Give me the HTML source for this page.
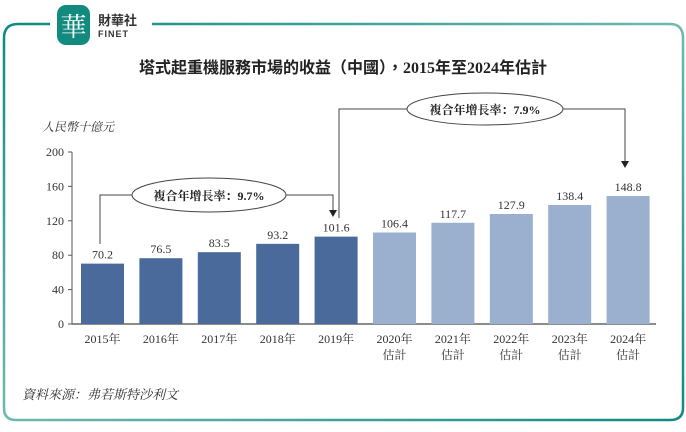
<!DOCTYPE html>
<html><head><meta charset="utf-8"><style>
body{margin:0;width:686px;height:427px;background:#fff;overflow:hidden;font-family:"Liberation Serif","Noto Serif CJK SC",serif;}
</style></head><body>
<svg width="686" height="427" id="c">
<defs>
<linearGradient id="fr" x1="0" y1="0" x2="1" y2="1"><stop offset="0" stop-color="#0f8a80"/><stop offset="0.5" stop-color="#6fb9b2"/><stop offset="1" stop-color="#0f8a80"/></linearGradient>
</defs>
<path d="M50,24 L18,24 Q4,24 4,38 L4,408 Q4,420 16,420 L670,420 Q683,420 683,408 L683,38 Q683,24 670,24 L152,24" fill="none" stroke="url(#fr)" stroke-width="2.5"/>
<rect x="57" y="5" width="33" height="40" rx="9" fill="#128a7e"/>
<text x="73.5" y="36" text-anchor="middle" font-size="26" fill="#fff" font-family="Noto Serif CJK SC,serif">華</text>
<text x="98" y="25" font-size="13" font-weight="bold" fill="#333" font-family="Noto Sans CJK TC,sans-serif">財華社</text>
<text x="98" y="37" font-size="9" font-weight="bold" fill="#333" font-family="Liberation Sans,sans-serif" letter-spacing="1">FINET</text>
<text x="343" y="73" text-anchor="middle" font-size="16" font-weight="bold" fill="#222" font-family="Liberation Serif,Noto Sans CJK TC,sans-serif">塔式起重機服務市場的收益（中國），2015年至2024年估計</text>
<text x="42" y="131" font-size="12" font-style="italic" fill="#333">人民幣十億元</text>
<text x="22" y="399" font-size="13" font-style="italic" fill="#333">資料來源：弗若斯特沙利文</text>
<g id="axes"></g><g id="bars"></g>
<g fill="none" stroke="#444" stroke-width="1">
<polyline points="100,244 100,195 132,195"/><polyline points="286,195 333,195 333,212"/>
<ellipse cx="209" cy="195" rx="77" ry="17" fill="#fff"/>
</g>
<path d="M329,210 L337,210 L333,217 Z" fill="#222"/>
<text x="209" y="200" text-anchor="middle" font-size="12" font-weight="bold" fill="#222">複合年增長率：9.7%</text>
<g fill="none" stroke="#444" stroke-width="1">
<polyline points="339,218 339,109 407,109"/><polyline points="563,109 625,109 625,163"/>
<ellipse cx="485" cy="109" rx="78" ry="16" fill="#fff"/>
</g>
<path d="M621,161 L629,161 L625,168 Z" fill="#222"/>
<text x="485" y="114" text-anchor="middle" font-size="12" font-weight="bold" fill="#222">複合年增長率：7.9%</text>
</svg>
<script>
const categories=["2015年","2016年","2017年","2018年","2019年","2020年","2021年","2022年","2023年","2024年"];
const estimated=[false,false,false,false,false,true,true,true,true,true];
const values=[70.2,76.5,83.5,93.2,101.6,106.4,117.7,127.9,138.4,148.8];
const ticks=[0,40,80,120,160,200];
const NS="http://www.w3.org/2000/svg";
const y0=324,yTop=152,ymax=200;
const y=v=>y0-(v/ymax)*(y0-yTop);
const x0=81,step=58.4,bw=43;
const x=i=>x0+i*step;
function mk(t,a,p){const e=document.createElementNS(NS,t);for(const k in a)e.setAttribute(k,a[k]);p.appendChild(e);return e;}
const ax=document.getElementById('axes'),bg=document.getElementById('bars');
const yl=mk('line',{x1:72,y1:yTop,x2:72,y2:y0,stroke:'#555'},ax);


ticks.forEach(t=>{
 mk('line',{x1:68,x2:72,y1:y(t),y2:y(t),stroke:'#555'},ax);
 const tx=mk('text',{x:64,y:y(t)+4,'text-anchor':'end','font-size':12,fill:'#333'},ax);
 tx.textContent=t;
 
 
});
const xl=mk('line',{x1:72,y1:y0,x2:656,y2:y0,stroke:'#666','stroke-width':1.5},ax);


values.forEach((v,i)=>{
 const r=mk('rect',{x:x(i),y:y(v),width:bw,height:y0-y(v),fill:estimated[i]?'#9bafcf':'#4a6a9b'},bg);
 
 
 const l=mk('text',{x:x(i)+bw/2,y:y(v)-5,'text-anchor':'middle','font-size':12,fill:'#333'},bg);
 l.textContent=v.toFixed(1);
 
 
 const c=mk('text',{x:x(i)+bw/2,y:y0+19,'text-anchor':'middle','font-size':12,fill:'#333'},bg);
 c.textContent=categories[i];
 
 
 if(estimated[i]){const e=mk('text',{x:x(i)+bw/2,y:y0+35,'text-anchor':'middle','font-size':12,fill:'#333'},bg);e.textContent='估計';
 
 }
});
</script>
</body></html>
